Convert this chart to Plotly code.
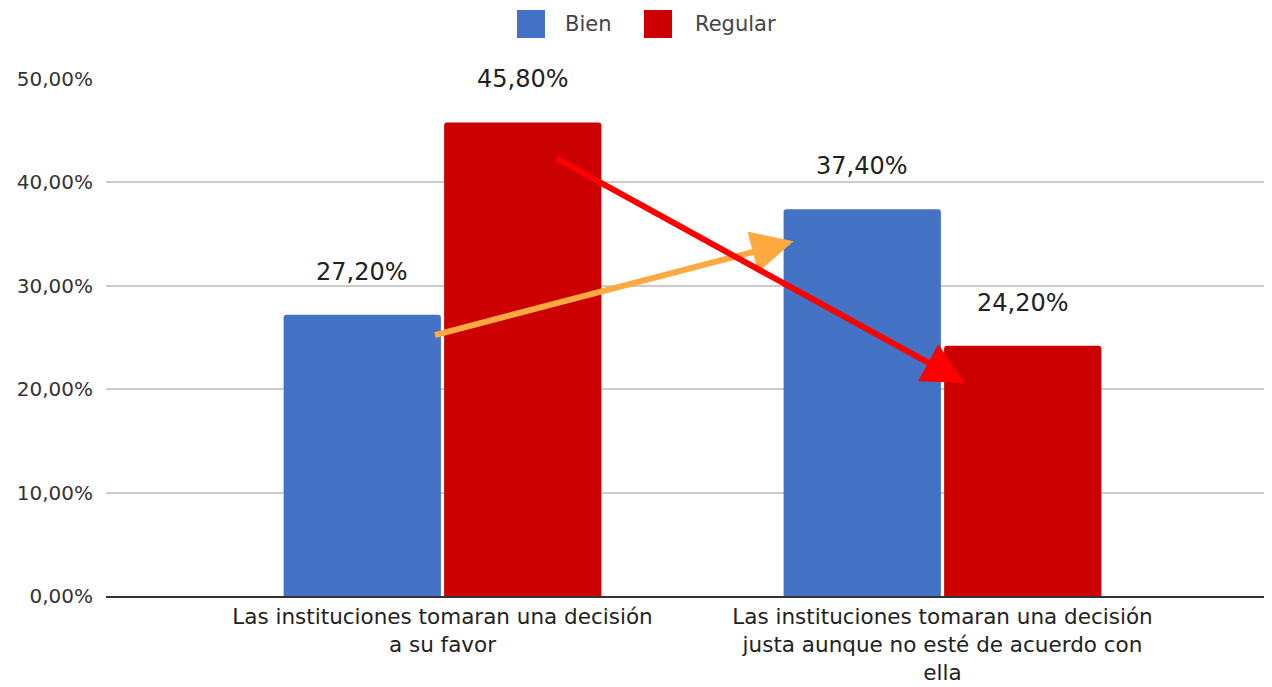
import plotly.graph_objects as go

categories = [
    "Las instituciones tomaran una decisión<br>a su favor",
    "Las instituciones tomaran una decisión<br>justa aunque no esté de acuerdo con<br>ella",
]
series_names = ["Bien", "Regular"]
bien = [27.2, 37.4]
regular = [45.8, 24.2]
colors = ["#4472C4", "#CC0000"]
y_ticks = [0, 10, 20, 30, 40, 50]
y_tick_labels = [f"{v:.2f}%".replace(".", ",") for v in y_ticks]

# trend arrows (tail -> head), in axis units (category index, percent)
arrow_orange = dict(tail=(-0.018, 25.2), head=(0.702, 34.3), color="#FFA940")
arrow_red = dict(tail=(0.225, 42.4), head=(1.045, 20.6), color="#FF0000")

# page has an 8px body margin: figure is drawn from screen (8, 8)
OFF = 8
SCREEN_W, SCREEN_H = 1272, 687
W, H = SCREEN_W - OFF, SCREEN_H - OFF
PLOT_L, PLOT_R, PLOT_T, PLOT_B = 106, 1272, 79, 596   # screen pixels
ML, MR, MT, MB = PLOT_L - OFF, SCREEN_W - PLOT_R, PLOT_T - OFF, SCREEN_H - PLOT_B
PW, PH = PLOT_R - PLOT_L, PLOT_B - PLOT_T

def px2paper(px, py):
    return (px - PLOT_L) / PW, (PLOT_B - py) / PH

CAT0_X, CAT_STEP = 442.5, 500.0
BARGAP = 0.358
GROUPGAP = 0.02
off = (1 - BARGAP) / 4

fig = go.Figure()
for name, vals, col in zip(series_names, [bien, regular], colors):
    fig.add_trace(go.Bar(
        name=name, x=list(range(len(categories))), y=vals,
        marker=dict(color=col, cornerradius=3, line=dict(width=0)),
        showlegend=False, hoverinfo="skip",
    ))

annotations = []
for s, vals in enumerate([bien, regular]):
    for i, v in enumerate(vals):
        annotations.append(dict(
            x=i + (-off if s == 0 else off), y=v, xref="x", yref="y",
            text=f"{v:.2f}%".replace(".", ","), showarrow=False,
            yanchor="middle", yshift=43,
            font=dict(family="DejaVu Sans", size=24, color="#222222"),
        ))

for a in [arrow_orange, arrow_red]:
    annotations.append(dict(
        x=a["head"][0], y=a["head"][1], ax=a["tail"][0], ay=a["tail"][1],
        xref="x", yref="y", axref="x", ayref="y", text="",
        showarrow=True, arrowhead=2, arrowsize=1.4, arrowwidth=6,
        arrowcolor=a["color"], standoff=0,
    ))

# legend
legend_items = [("Bien", colors[0], 517, 563), ("Regular", colors[1], 644, 693)]
shapes = []
for name, col, sx, tx in legend_items:
    x0, y1 = px2paper(sx, 10)
    x1, y0 = px2paper(sx + 28, 38)
    shapes.append(dict(type="rect", xref="paper", yref="paper", x0=x0, x1=x1, y0=y0, y1=y1,
                       fillcolor=col, line=dict(width=0), layer="above"))
    tx0, ty = px2paper(tx, 24)
    annotations.append(dict(x=tx0, y=ty, xref="paper", yref="paper", text=name,
                            showarrow=False, xanchor="left", yanchor="middle",
                            font=dict(family="DejaVu Sans", size=21, color="#444444")))

fig.update_layout(
    width=W, height=H,
    margin=dict(l=ML, r=MR, t=MT, b=MB, autoexpand=False),
    paper_bgcolor="white", plot_bgcolor="white",
    barmode="group", bargap=BARGAP, bargroupgap=GROUPGAP,
    showlegend=False,
    annotations=annotations, shapes=shapes,
    xaxis=dict(
        tickmode="array", tickvals=list(range(len(categories))), ticktext=categories,
        range=[(PLOT_L - CAT0_X) / CAT_STEP, (PLOT_R - CAT0_X) / CAT_STEP], automargin=False,
        showgrid=False, zeroline=False, showline=True, linecolor="#333333", linewidth=2,
        ticks="", ticklabelstandoff=0,
        tickfont=dict(family="DejaVu Sans", size=21.5, color="#222222"),
    ),
    yaxis=dict(
        range=[0, 50], tickmode="array", tickvals=y_ticks, ticktext=y_tick_labels,
        automargin=False,
        showgrid=True, gridcolor="#CCCCCC", gridwidth=2, zeroline=False,
        showline=False, ticks="", ticklabelstandoff=12,
        tickfont=dict(family="DejaVu Sans", size=20, color="#333333"),
    ),
)

fig.write_html("out.html")
